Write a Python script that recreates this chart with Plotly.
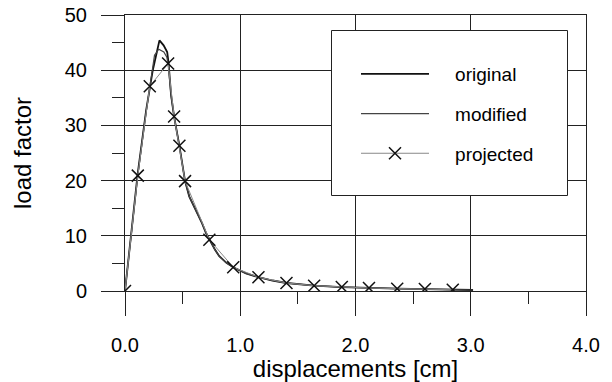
import plotly.graph_objects as go

# ---- data ----
x_orig = [0, 0.05, 0.11, 0.184, 0.241, 0.299, 0.335, 0.366, 0.377, 0.40, 0.426, 0.472, 0.521,
          0.558, 0.616, 0.668, 0.703, 0.732, 0.78, 0.818, 0.88, 0.939, 1.05, 1.158, 1.28,
          1.401, 1.641, 1.881, 2.117, 2.362, 2.602, 2.844, 3.02]
y_orig = [0, 9.8, 21.2, 32.8, 40.0, 45.4, 44.5, 43.3, 41.5, 35.5, 31.6, 26.3, 19.9,
          17.1, 14.7, 12.3, 10.5, 9.3, 7.5, 6.3, 5.1, 4.3, 3.2, 2.5, 1.9,
          1.45, 0.96, 0.72, 0.54, 0.42, 0.34, 0.26, 0.18]

x_mod = [0, 0.05, 0.111, 0.17, 0.215, 0.256, 0.293, 0.337, 0.362, 0.374, 0.40, 0.426, 0.472, 0.521,
         0.558, 0.616, 0.668, 0.703, 0.732, 0.78, 0.818, 0.88, 0.939, 1.05, 1.158, 1.28,
         1.401, 1.641, 1.881, 2.117, 2.362, 2.602, 2.844, 3.02]
y_mod = [0, 9.5, 20.9, 30.5, 37.1, 42.7, 43.8, 43.3, 42.4, 41.2, 35.3, 31.6, 26.3, 19.9,
         17.1, 14.7, 12.3, 10.5, 9.3, 7.5, 6.3, 5.1, 4.3, 3.2, 2.5, 1.9,
         1.45, 0.96, 0.72, 0.54, 0.42, 0.34, 0.26, 0.18]

x_proj = [0, 0.111, 0.215, 0.374, 0.426, 0.472, 0.521, 0.732, 0.939, 1.158, 1.401,
          1.641, 1.881, 2.117, 2.362, 2.602, 2.844]
y_proj = [0, 20.9, 37.1, 41.2, 31.6, 26.3, 19.9, 9.3, 4.3, 2.5, 1.45,
          0.96, 0.72, 0.54, 0.42, 0.36, 0.24]

x_ticks = [0, 1, 2, 3, 4]
x_ticklabels = ["0.0", "1.0", "2.0", "3.0", "4.0"]
y_ticks = [0, 10, 20, 30, 40, 50]

FONT = "Liberation Sans, Arial, Helvetica, sans-serif"
GRID = "#222222"
PAD = "\u00a0\u00a0\u00a0\u00a0"

# body margin is removed in the page (post_script), so the figure starts at 0,0;
# plot area lands at x 125..586, y 15..291 of the 612x382 window
OFF = 0
L, T, PW, PH = 125 - OFF, 15 - OFF, 461, 276
R, B = 26, 91
W = L + PW + R
H = T + PH + B


def px_x(p):  # window pixel -> paper fraction
    return (p - OFF - L) / PW


def px_y(p):
    return (T + PH - (p - OFF)) / PH


fig = go.Figure()
fig.add_trace(go.Scatter(x=x_orig, y=y_orig, mode="lines", name=PAD + "original",
                         legendgroup="a", line=dict(color="#111111", width=1.8)))
fig.add_trace(go.Scatter(x=x_mod, y=y_mod, mode="lines", name=PAD + "modified",
                         legendgroup="b", line=dict(color="#444444", width=1.2)))
fig.add_trace(go.Scatter(x=x_proj, y=y_proj, mode="lines+markers", name=PAD + "projected",
                         legendgroup="c",
                         line=dict(color="#888888", width=1),
                         marker=dict(symbol="x-thin-open", size=12, color="#111111",
                                     line=dict(color="#111111", width=1.5))))

# legend box (decoration)
fig.add_shape(type="rect", xref="paper", yref="paper",
              x0=px_x(331.5), x1=px_x(567.5), y0=px_y(195.5), y1=px_y(30.5),
              line=dict(color="#222222", width=1), fillcolor="white", layer="above")

fig.update_layout(
    width=W, height=H,
    margin=dict(l=L, r=R, t=T, b=B, autoexpand=False),
    paper_bgcolor="white", plot_bgcolor="white",
    font=dict(family=FONT, size=20, color="black"),
    showlegend=True,
    legend=dict(x=px_x(356), y=px_y(55), xanchor="left", yanchor="top",
                bgcolor="rgba(0,0,0,0)", borderwidth=0,
                font=dict(family=FONT, size=19, color="black"),
                itemwidth=68, traceorder="grouped", tracegroupgap=12,
                itemclick=False),
    xaxis=dict(range=[0, 4], tickvals=x_ticks, ticktext=x_ticklabels, automargin=False,
               showgrid=True, gridcolor=GRID, gridwidth=1, zeroline=False,
               showline=True, linecolor=GRID, linewidth=1, mirror=True,
               ticks="outside", ticklen=24, tickcolor=GRID, tickwidth=1,
               ticklabelstandoff=12, ticklabeloverflow="allow",
               minor=dict(dtick=0.5, ticks="outside", ticklen=12, tickcolor=GRID, showgrid=False),
               tickfont=dict(size=20),
               title=dict(text="displacements [cm]", font=dict(size=24), standoff=4)),
    yaxis=dict(range=[0, 50], tickvals=y_ticks, automargin=False,
               showgrid=True, gridcolor=GRID, gridwidth=1, zeroline=False,
               showline=True, linecolor=GRID, linewidth=1, mirror=True,
               ticks="outside", ticklen=23, tickcolor=GRID, tickwidth=1,
               ticklabelstandoff=10, ticklabeloverflow="allow",
               minor=dict(dtick=5, ticks="outside", ticklen=12, tickcolor=GRID, showgrid=False),
               tickfont=dict(size=20),
               title=dict(text="load factor", font=dict(size=24), standoff=26)),
)

fig.write_html("out.html", config={"displayModeBar": False},
               post_script="document.body.style.margin='0';")
